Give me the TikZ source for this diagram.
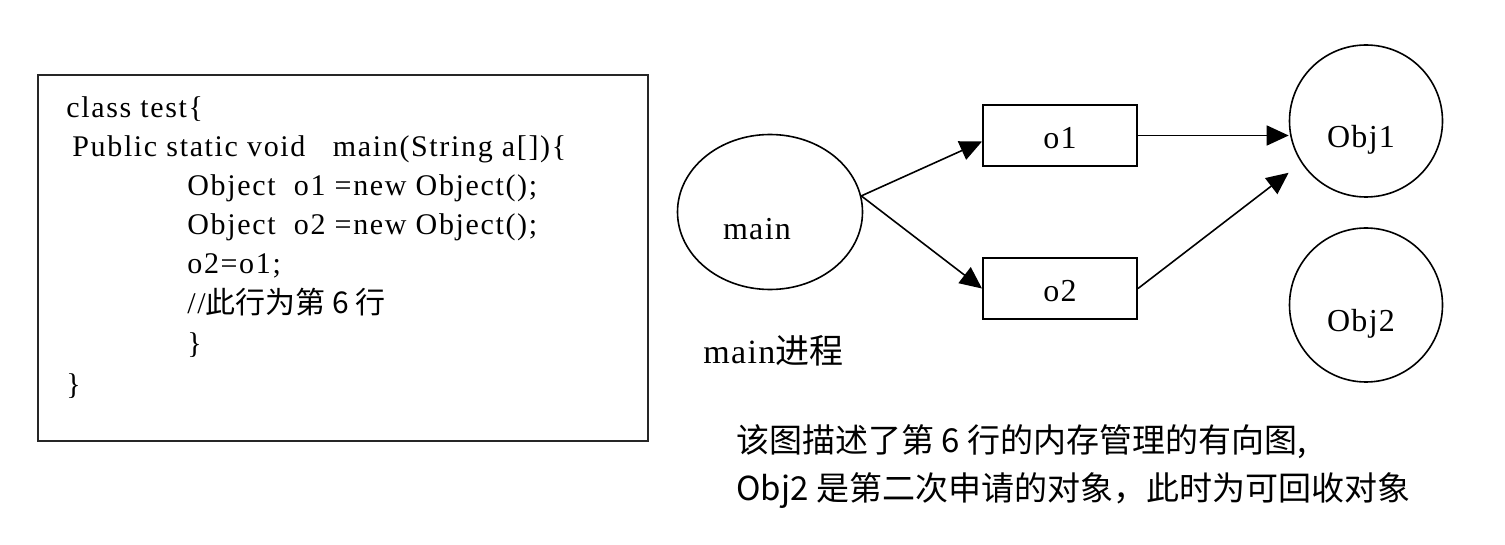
\documentclass[tikz,border=0pt]{standalone}
\usepackage{fontspec}
\setmainfont{Liberation Serif}
\newfontfamily\codefont[LetterSpace=5.5]{Liberation Serif}
\newfontfamily\lblfont[LetterSpace=4]{Liberation Serif}
\newfontfamily\cjk{Noto Sans CJK SC}
\usetikzlibrary{shapes.geometric,arrows.meta}
\begin{document}
\begin{tikzpicture}[x=0.5pt,y=-0.5pt,
  codetext/.style={anchor=base west, inner sep=0, font=\codefont\fontsize{15}{18}\selectfont},
  ell/.style={draw, ellipse, line width=0.8pt, inner sep=0},
  refbox/.style={draw, rectangle, line width=1pt, minimum width=77pt, minimum height=30.5pt, inner sep=0},
  lbl/.style={anchor=base, inner sep=0, font=\lblfont\fontsize{16}{19}\selectfont},
  arr/.style={-{Triangle[length=11pt,width=10pt]}, line width=0.8pt},
  capt/.style={anchor=base west, inner sep=0, font=\cjk\fontsize{16.5}{19}\selectfont}]
\useasboundingbox (0,0) rectangle (1505,545);
% code box
\node[draw=black!85, line width=1.2pt, minimum width=305pt, minimum height=183pt, inner sep=0] (codebox) at (343,258) {};
\node[codetext] (c1) at (66,118) {class test\{};
\node[codetext] (c2) at (72,157) {Public static void\ \ \ main(String a[])\{};
\node[codetext] (c3) at (187,196) {Object\ \ o1 =new Object();};
\node[codetext] (c4) at (187,235) {Object\ \ o2 =new Object();};
\node[codetext] (c5) at (187,274) {o2=o1;};
\node[codetext] (c6) at (187,314) {//{\cjk 此行为第 6 行}};
\node[codetext] (c7) at (187,354) {\}};
\node[codetext] (c8) at (66,394) {\}};
% diagram
\node[ell, minimum width=92.5pt, minimum height=77.5pt] (main) at (770,212) {};
\node[lbl] (mainlbl) at (757,240) {main};
\node[refbox] (o1) at (1060,135.5) {};
\node[lbl] (o1lbl) at (1060,149) {o1};
\node[refbox] (o2) at (1060,288.5) {};
\node[lbl] (o2lbl) at (1060,302) {o2};
\node[ell, minimum width=76.5pt, minimum height=76pt] (Obj1) at (1366,121) {};
\node[lbl] (Obj1lbl) at (1361,148) {Obj1};
\node[ell, minimum width=76.5pt, minimum height=77pt] (Obj2) at (1366,305) {};
\node[lbl] (Obj2lbl) at (1361,331) {Obj2};
\node[lbl, anchor=base west, font=\lblfont\fontsize{17}{20}\selectfont] (proc) at (703,364) {main{\cjk 进程}};
% arrows
\draw[arr] (main.10) -- ([yshift=-3pt]o1.west);
\draw[arr] (main.10) -- (o2.west);
\draw[arr] (o1.east) -- (o1.east -| Obj1.west);
\draw[arr, shorten >=8pt] (o2.east) -- (Obj1.213);
% caption
\node[capt] (cap1) at (736,452) {该图描述了第 6 行的内存管理的有向图,};
\node[capt] (cap2) at (736,500) {Obj2 是第二次申请的对象，此时为可回收对象};
\end{tikzpicture}
\end{document}
